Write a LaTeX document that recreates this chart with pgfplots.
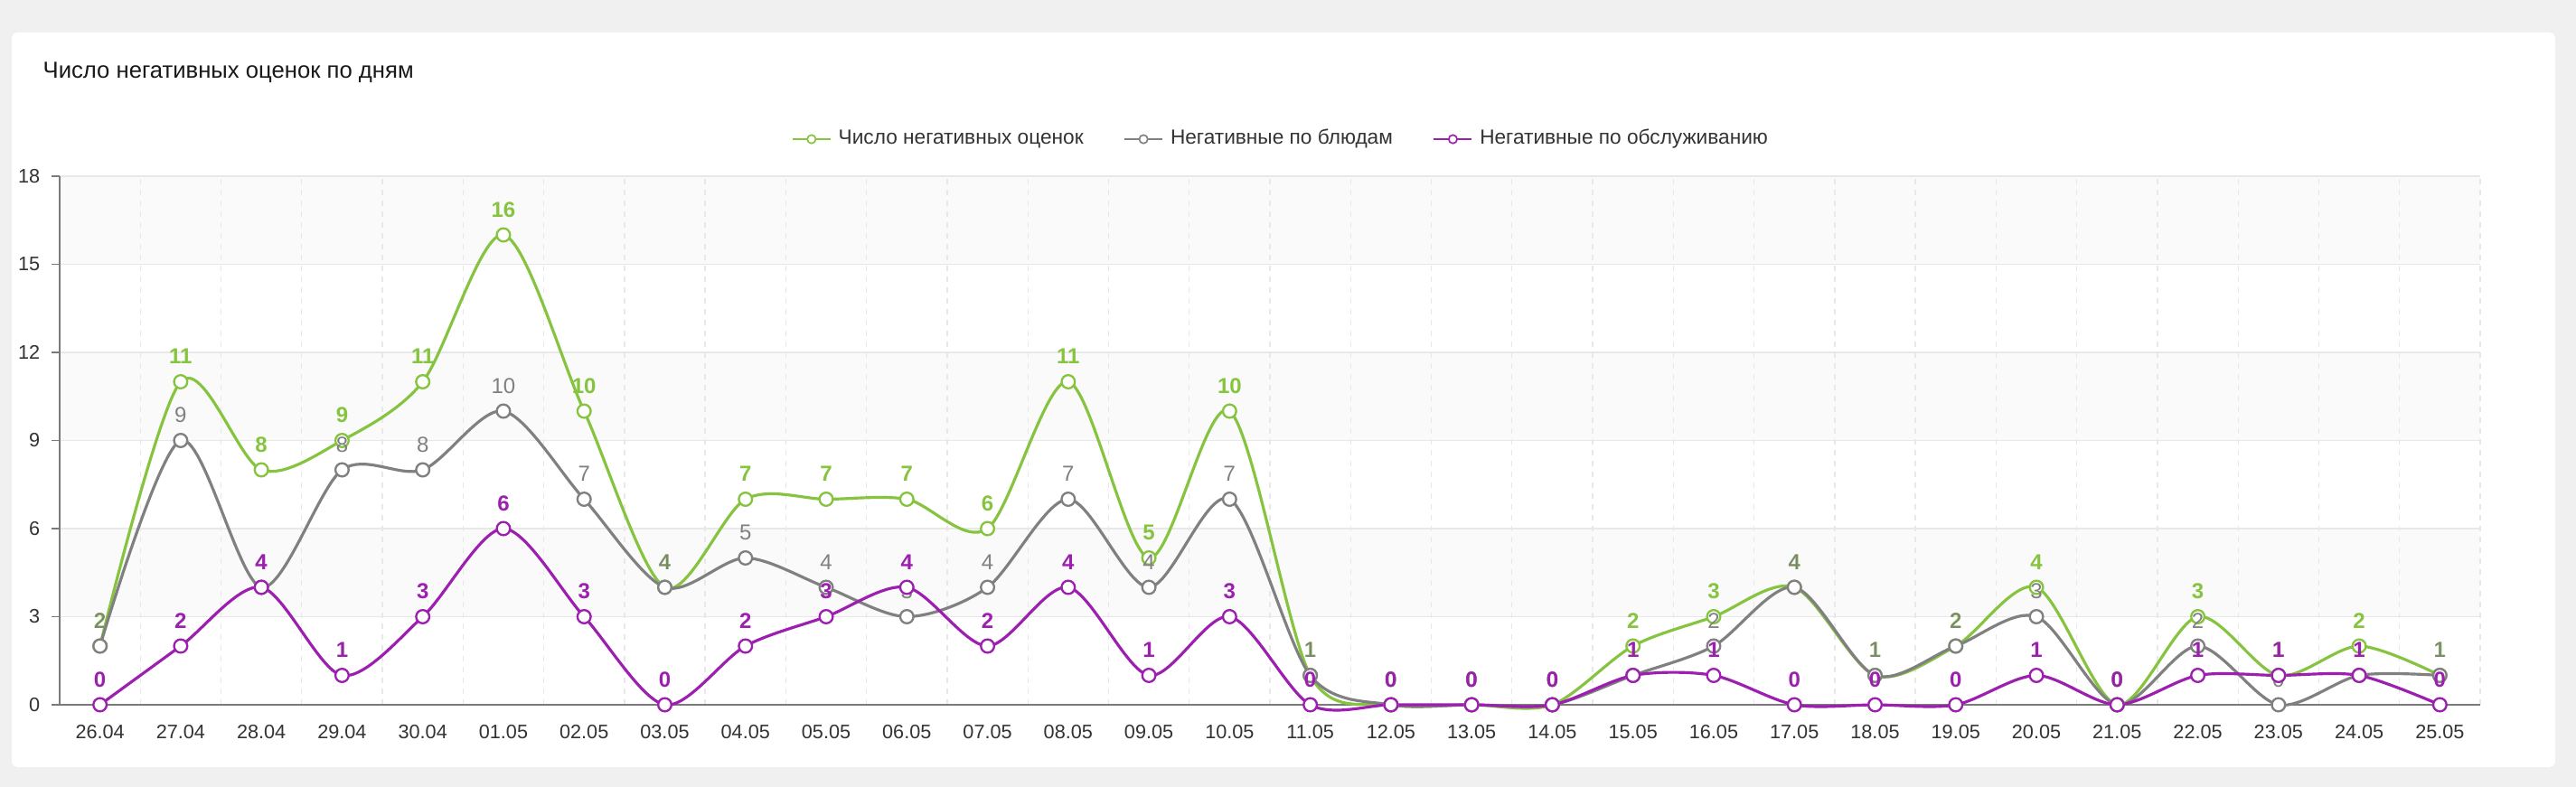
\documentclass[border=0pt]{standalone}
\usepackage{fontspec}
\setmainfont{Liberation Sans}
\usepackage{pgfplots}
\usepackage{pgfplotstable}
\pgfplotsset{compat=1.18}
\definecolor{cgreen}{HTML}{86C440}
\definecolor{cgray}{HTML}{808080}
\definecolor{cpurple}{HTML}{9C1FB0}
\definecolor{bgc}{HTML}{F0F0F0}
\definecolor{bandc}{HTML}{FAFAFA}
\definecolor{gridc}{HTML}{E8E8E8}
\definecolor{axc}{HTML}{7A7A7A}
\definecolor{txt}{HTML}{333333}

\pgfplotstableread{
x total dish service
0 2 2 0
1 11 9 2
2 8 4 4
3 9 8 1
4 11 8 3
5 16 10 6
6 10 7 3
7 4 4 0
8 7 5 2
9 7 4 3
10 7 3 4
11 6 4 2
12 11 7 4
13 5 4 1
14 10 7 3
15 1 1 0
16 0 0 0
17 0 0 0
18 0 0 0
19 2 1 1
20 3 2 1
21 4 4 0
22 1 1 0
23 2 2 0
24 4 3 1
25 0 0 0
26 3 2 1
27 1 0 1
28 2 1 1
29 1 1 0
}\datatable

\begin{document}
\begin{tikzpicture}
\fill[bgc] (0,0) rectangle (855pt,-261.3pt);
\fill[black!6, rounded corners=2.5pt] (3.4pt,-10.3pt) rectangle (848.6pt,-255.2pt);
\fill[white, rounded corners=2pt] (3.9pt,-10.8pt) rectangle (848.1pt,-254.7pt);
\fill[bandc] (19.8pt,-58.5pt) rectangle (823.2pt,-87.75pt);
\fill[bandc] (19.8pt,-117pt) rectangle (823.2pt,-146.25pt);
\fill[bandc] (19.8pt,-175.5pt) rectangle (823.2pt,-204.75pt);
\node[anchor=base west, inner sep=0pt, font=\fontsize{7.7}{9}\selectfont, text=black!90] at (14.1pt,-26.1pt) {Число негативных оценок по дням};
\begin{axis}[
  at={(19.8pt,-234pt)}, anchor=south west,
  scale only axis, width=803.4pt, height=175.5pt,
  xmin=-0.5, xmax=29.5, ymin=0, ymax=18,
  clip=false,
  axis x line*=bottom, axis y line*=left,
  axis line style={axc, line width=0.45pt},
  xtick={0,...,29},
  xticklabels={26.04,27.04,28.04,29.04,30.04,01.05,02.05,03.05,04.05,05.05,06.05,07.05,08.05,09.05,10.05,11.05,12.05,13.05,14.05,15.05,16.05,17.05,18.05,19.05,20.05,21.05,22.05,23.05,24.05,25.05},
  minor xtick={-0.5,0.5,...,29.5},
  ytick={0,3,...,18},
  tick align=outside,
  x tick style={draw=none},
  minor x tick style={axc, line width=0.45pt},
  y tick style={axc, line width=0.45pt},
  major tick length=2.7pt, minor tick length=2.7pt,
  ymajorgrids, xminorgrids,
  major grid style={gridc, line width=0.45pt},
  minor grid style={gridc, line width=0.4pt, dash pattern=on 1.8pt off 1.8pt},
  tick label style={font=\fontsize{6.5}{7}\selectfont, text=txt},
  /pgf/number format/assume math mode=true,
  xticklabel style={yshift=-0.6pt},
  yticklabel style={xshift=-0.3pt},
  legend style={at={(0.5056,1.07)}, anchor=center, draw=none, fill=none,
    font=\fontsize{6.8}{8}\selectfont, text=txt,
    legend columns=3,
    /tikz/every even column/.append style={column sep=11pt},
    nodes={inner sep=2.4pt}},
  legend image code/.code={
    \draw[#1, mark=none, line width=0.5pt] (0pt,0pt) -- (12.6pt,0pt);
    \draw[#1, mark=none, line width=0.5pt, fill=white] (6.3pt,0pt) circle (1.4pt);},
  every axis plot/.append style={smooth, tension=0.5, line width=0.95pt,
    mark=*, mark size=2.2pt},
  nodes near coords,
  every node near coord/.append style={anchor=south, inner sep=0pt, yshift=5.5pt,
    font=\fontsize{7.2}{8}\selectfont},
]
\addplot[cgreen, mark options={fill=white, line width=0.7pt},
  every node near coord/.append style={text=cgreen, font=\fontsize{7.2}{8}\selectfont\bfseries}]
  table[x=x, y=total] {\datatable};
\addlegendentry{Число негативных оценок}
\addplot[cgray, mark options={fill=white, line width=0.7pt},
  every node near coord/.append style={text=cgray}]
  table[x=x, y=dish] {\datatable};
\addlegendentry{Негативные по блюдам}
\addplot[cpurple, mark options={fill=white, line width=0.7pt},
  every node near coord/.append style={text=cpurple, font=\fontsize{7.2}{8}\selectfont\bfseries}]
  table[x=x, y=service] {\datatable};
\addlegendentry{Негативные по обслуживанию}
\end{axis}
\pgfresetboundingbox
\useasboundingbox (0,0) rectangle (855pt,-261.3pt);
\end{tikzpicture}
\end{document}
